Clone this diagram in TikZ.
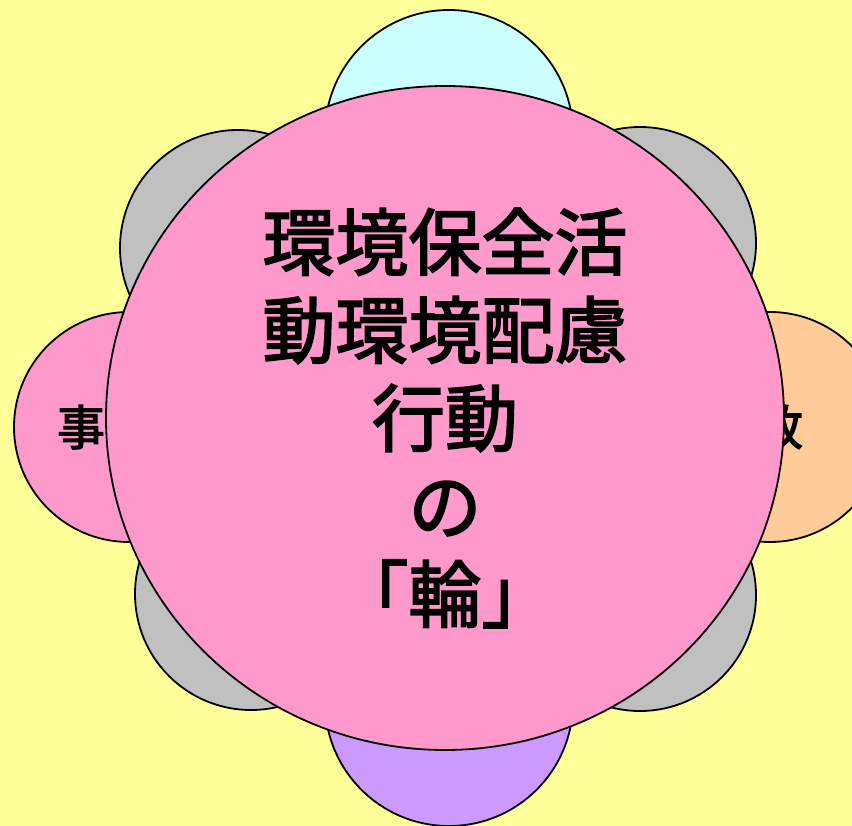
\documentclass[tikz,border=0pt]{standalone}
\usepackage{fontspec}
\setmainfont{Noto Sans CJK JP}
\newfontfamily\wheelfont{Noto Sans CJK JP}[FakeBold=2.5]
\usetikzlibrary{shapes.geometric}
\definecolor{bgyellow}{HTML}{FFFF99}
\definecolor{ringpink}{HTML}{FF99CC}
\definecolor{petalcyan}{HTML}{CCFFFF}
\definecolor{petalpurple}{HTML}{CC99FF}
\definecolor{petalorange}{HTML}{FFCC99}
\definecolor{petalgray}{HTML}{C0C0C0}
\tikzstyle{petal} = [draw, circle, line width=1.8pt, inner sep=0pt,
    align=center, font=\fontsize{48}{54}\wheelfont]
\tikzstyle{ring} = [draw, ellipse, fill=ringpink, line width=1.8pt,
    minimum width=678pt, minimum height=664pt, align=center,
    font=\fontsize{73}{88}\wheelfont]

\begin{document}
\begin{tikzpicture}[x=1pt, y=-1pt]
        \fill[bgyellow] (0, 0) rectangle (852, 826);
        \useasboundingbox (0, 0) rectangle (852, 826);

        \node[petal, fill=petalcyan, minimum size=248pt, name=top] at (449, 134) {市民};
        \node[petal, fill=petalpurple, minimum size=248pt, name=bottom] at (449, 702) {家庭};
        \node[petal, fill=ringpink, minimum size=230pt, name=left] at (129, 427) {事業者};
        \node[petal, fill=petalorange, minimum size=230pt, name=right] at (770, 427) {行政\hspace{30pt}};
        \node[petal, fill=petalgray, minimum size=236pt, name=topleft] at (238, 248) {地域\\団体};
        \node[petal, fill=petalgray, minimum size=232pt, name=topright] at (640, 243) {観光客};
        \node[petal, fill=petalgray, minimum size=232pt, name=bottomleft] at (251, 594) {学校};
        \node[petal, fill=petalgray, minimum size=232pt, name=bottomright] at (640, 595) {教育\\機関};

        \node[ring, name=wheel] at (445, 418) {環境保全活\\動環境配慮\\行動\\の\\「輪」};
    \end{tikzpicture}
\end{document}
